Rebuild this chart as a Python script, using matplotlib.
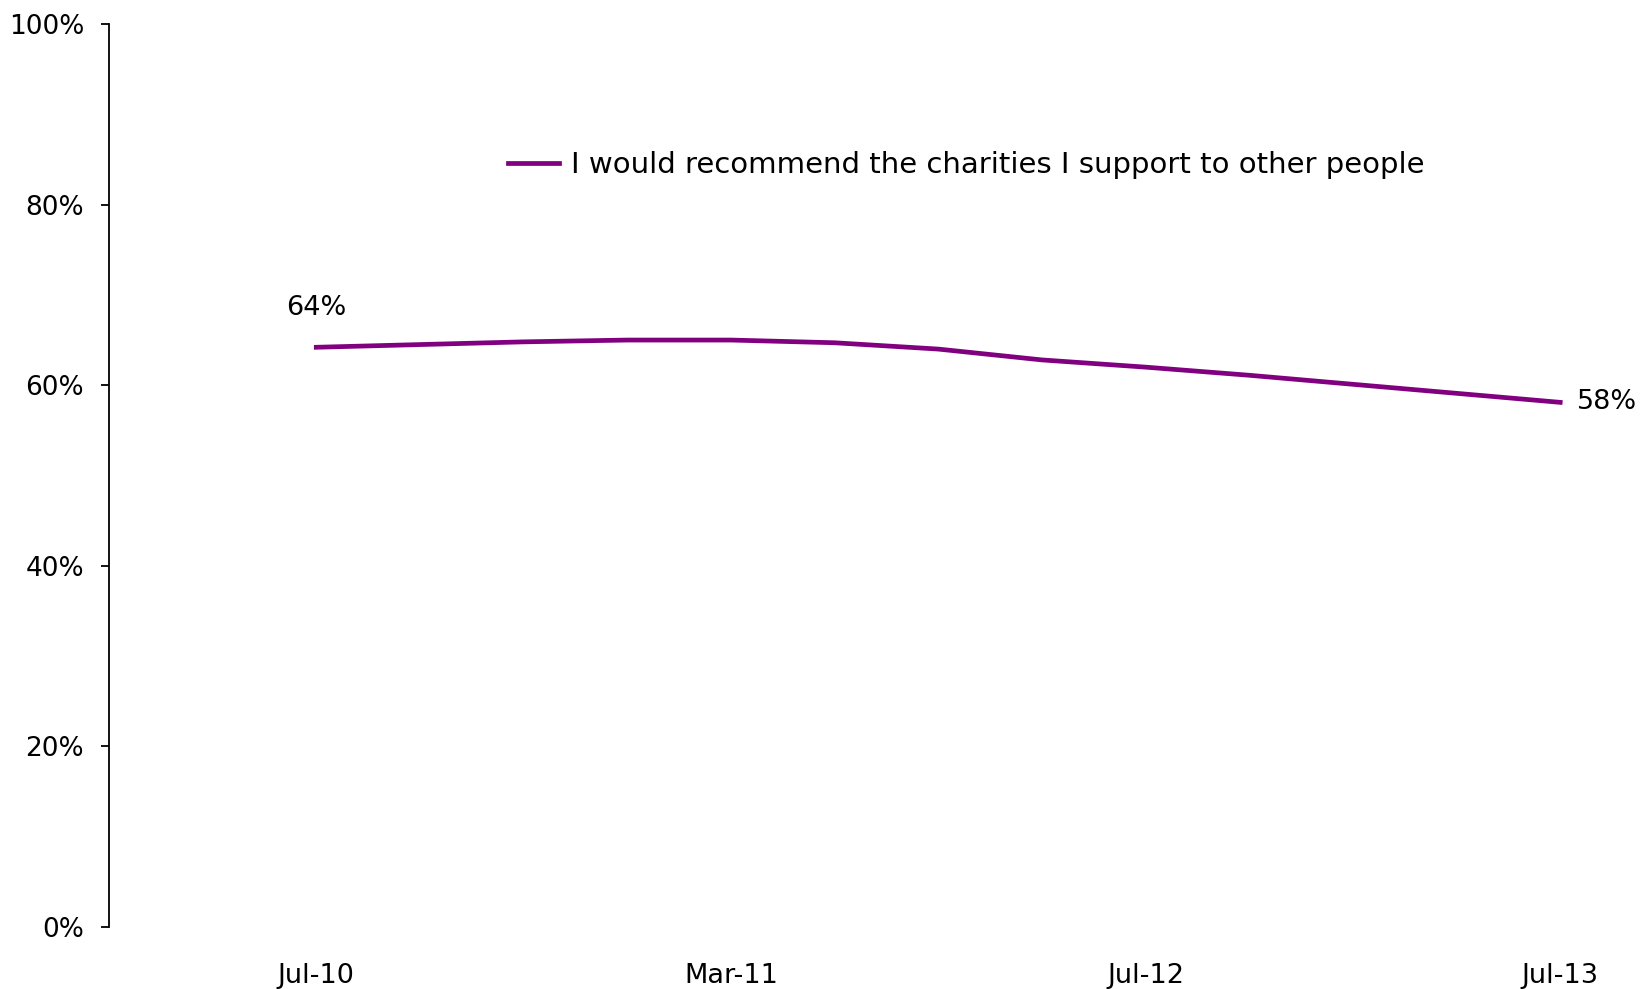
import matplotlib.pyplot as plt
from matplotlib.ticker import FuncFormatter

# Survey waves (category axis, only some labelled)
waves = list(range(13))
tick_positions = [0, 4, 8, 12]
tick_labels = ['Jul-10', 'Mar-11', 'Jul-12', 'Jul-13']

# I would recommend the charities I support to other people (%)
recommend = [64.2, 64.5, 64.8, 65.0, 65.0, 64.7, 64.0, 62.8, 62.0, 61.1, 60.1, 59.1, 58.1]
series_name = 'I would recommend the charities I support to other people'

plt.rcParams['font.family'] = ['DejaVu Sans']

fig = plt.figure(figsize=(16.47, 9.89), dpi=100)
ax = fig.add_axes([109 / 1647, 1 - 927 / 989, (1640 - 109) / 1647, (927 - 24) / 989])

ax.plot(waves, recommend, color='#800080', linewidth=3.4, label=series_name)

# first and last value labels
ax.annotate(f'{recommend[0]:.0f}%', (waves[0], recommend[0]), xytext=(0, 28),
            textcoords='offset points', ha='center', va='center', fontsize=19.5)
ax.annotate(f'{recommend[-1]:.0f}%', (waves[-1], recommend[-1]), xytext=(12, 0),
            textcoords='offset points', ha='left', va='center', fontsize=19.5)

ax.set_xlim(-2.0, 12.77)
ax.set_ylim(0, 100)
ax.set_yticks(range(0, 101, 20))
ax.yaxis.set_major_formatter(FuncFormatter(lambda v, p: f'{v:.0f}%'))
ax.set_xticks(tick_positions)
ax.set_xticklabels(tick_labels)

for side in ['top', 'right', 'bottom']:
    ax.spines[side].set_visible(False)
ax.spines['left'].set_linewidth(1.3)

ax.tick_params(axis='y', direction='out', length=6, width=1.3, pad=12, labelsize=19)
ax.tick_params(axis='x', length=0, pad=26, labelsize=19.5)

leg = ax.legend(loc='center left', bbox_to_anchor=(508 / 1647, 1 - 165 / 989),
                bbox_transform=fig.transFigure, frameon=False, fontsize=21,
                handlelength=1.75, handletextpad=0.4, borderaxespad=0, borderpad=0)

fig.savefig('out.png', dpi=100, facecolor='white')
